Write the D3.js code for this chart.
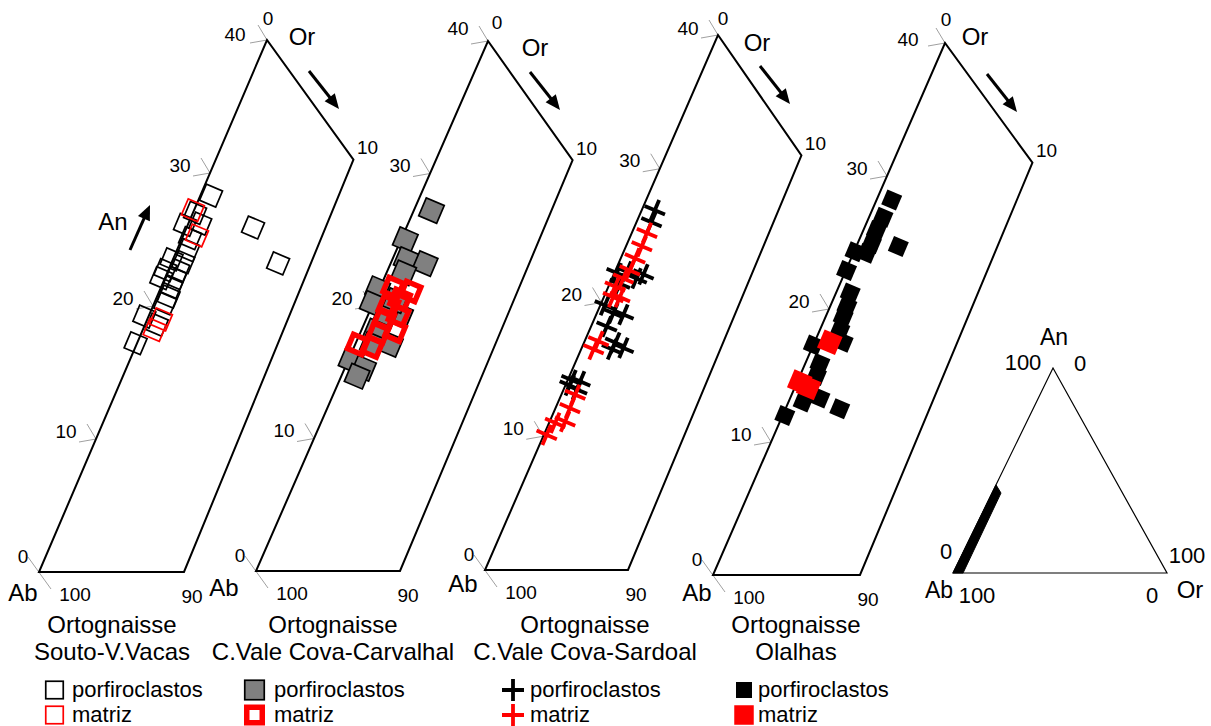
<!DOCTYPE html>
<html><head><meta charset="utf-8">
<script src="https://cdn.jsdelivr.net/npm/d3@7"></script>
<style>body{margin:0;background:#fff}svg{display:block}text{font-family:"Liberation Sans",Arial,Helvetica,sans-serif;fill:#000}</style>
</head><body><svg id="c" width="1211" height="726"></svg>
<script>
// ================= DATA =================
const anTicks = [0, 10, 20, 30, 40];
const frameOr = [0, 10, 9.5, 0];
const frameAn = [0, 0, 31, 40];
const abTickLabels = ["100", "90"];
const orTickLabels = ["0", "10"];
const seriesNames = ["porfiroclastos", "matriz"];
const titlesLine1 = ["Ortognaisse", "Ortognaisse", "Ortognaisse", "Ortognaisse"];
const titlesLine2 = ["Souto-V.Vacas", "C.Vale Cova-Carvalhal", "C.Vale Cova-Sardoal", "Olalhas"];

// [Or, An] pairs
const soutoPorfiroclastos = [[0.74,28.3],[0.15,27.0],[0.82,26.2],[-0.19,26.1],[0.55,25.1],[0.77,24.2],[-0.1,23.5],[0.79,23.3],[-0.21,22.7],[0.68,22.7],[-0.25,22.1],[0.71,22.1],[0.70,21.4],[0.80,20.7],[0.77,20.2],[-0.28,19.2],[0.81,18.6],[-0.1,17.2],[4.58,25.9],[7.37,23.2]];
const soutoMatriz = [[-0.08,27.2],[0.95,25.3],[0.94,19.0],[0.82,18.2]];

const carvalhalPorfiroclastos = [[1.23,27.2],[0.30,25.0],[0.97,23.5],[2.40,23.2],[1.19,22.5],[-0.13,21.3],[-0.06,20.2],[2.26,19.3],[1.23,19.3],[1.02,18.1],[2.44,17.1],[1.20,17.1],[0.20,15.9],[1.30,15.3],[1.10,14.7],[1.47,20.4]];
const carvalhalMatriz = [[2.24,21.1],[0.91,21.4],[1.75,20.5],[2.12,19.3],[1.25,19.0],[2.37,18.1],[1.26,18.0],[0.17,17.1],[1.26,16.9],[1.14,20.0]];

const sardoalPorfiroclastos = [[0.92,26.9],[1.05,26.0],[0.17,22.2],[0.83,22.3],[2.08,22.1],[1.72,21.8],[0.71,21.4],[0.32,19.8],[1.16,19.2],[1.90,19.1],[1.10,18.2],[2.19,17.0],[2.92,16.6],[2.16,16.5],[0.27,14.2],[0.91,14.1],[0.93,13.5],[0.31,13.8]];
const sardoalMatriz = [[1.06,25.2],[1.11,24.2],[1.0,23.3],[1.0,22.4],[0.79,21.8],[0.46,21.2],[1.12,20.4],[0.65,20.4],[0.97,17.1],[0.87,16.5],[0.97,13.1],[1.01,12.1],[1.08,11.1],[0.43,11.0],[0.2,10.1]];

const olalhasPorfiroclastos = [[1.03,28.2],[0.95,26.9],[0.9,25.9],[0.95,24.9],[0.91,24.2],[0.07,24.3],[2.86,24.7],[0.05,22.9],[0.97,21.2],[1.14,20.2],[1.2,19.4],[1.37,18.4],[1.95,17.5],[0.0,17.3],[1.0,15.9],[1.12,15.0],[1.0,13.0],[2.03,13.3],[3.69,12.5],[0.15,12.0]];
const olalhasMatriz = [[1.04,17.5],[0.18,14.5],[0.94,14.1]];

// small full triangle: compositional field (Or, An)
const bandOr = [0, 4.7, 4.2, 0];
const bandAn = [0, 0, 39, 43];
const triTickLabels = ["100", "0"];

// ================= LAYOUT =================
const svg = d3.select("#c");
const RED = "#ff0000", GREY = "#808080", TICKGREY = "#a0a0a0";
const MROT = 23;

const panels = [
  {bl:[39,572], br:[184,572], tl:[267,40], ab:[-16,21], or:[35,-3], t40:[-32,-6], t0:[1,-22], tx:112,
   porf:soutoPorfiroclastos, mat:soutoMatriz, kind:"open"},
  {bl:[256,571], br:[400,571], tl:[488,41], ab:[-32,17], or:[47,7], t40:[-30,-13], t0:[9,-19], tx:333,
   porf:carvalhalPorfiroclastos, mat:carvalhalMatriz, kind:"grey"},
  {bl:[485,570], br:[628,570], tl:[718,35], ab:[-22,14], or:[39,8], t40:[-30,-7], t0:[5,-17], tx:585,
   porf:sardoalPorfiroclastos, mat:sardoalMatriz, kind:"plus"},
  {bl:[713,575], br:[860,575], tl:[945,43], ab:[-16,18], or:[30,-6], t40:[-37,-4], t0:[1,-24], tx:796,
   porf:olalhasPorfiroclastos, mat:olalhasMatriz, kind:"solid"}
];

function arrow(g, x1, y1, x2, y2) {
  const ang = Math.atan2(y2 - y1, x2 - x1), L = 15, W = 6.5;
  const bx = x2 - L * Math.cos(ang), by = y2 - L * Math.sin(ang);
  g.append("line").attr("x1", x1).attr("y1", y1).attr("x2", bx + Math.cos(ang)).attr("y2", by + Math.sin(ang))
    .attr("stroke", "#000").attr("stroke-width", 3);
  const px = -Math.sin(ang) * W, py = Math.cos(ang) * W;
  g.append("path").attr("d", `M${x2},${y2}L${bx + px},${by + py}L${bx - px},${by - py}Z`).attr("fill", "#000");
}

function txt(g, x, y, s, size, anchor) {
  return g.append("text").attr("x", x).attr("y", y).attr("dy", "0.35em")
    .attr("text-anchor", anchor || "middle").attr("font-size", size).text(s);
}

function drawMarker(g, kind, isMat, x, y, rot) {
  const m = g.append("g").attr("transform", `translate(${x},${y}) rotate(${rot})`);
  if (kind === "open") {
    const s = 17.5;
    m.append("rect").attr("x", -s/2).attr("y", -s/2).attr("width", s).attr("height", s)
      .attr("fill", "none").attr("stroke", isMat ? RED : "#000").attr("stroke-width", 1.7);
  } else if (kind === "grey") {
    if (isMat) {
      const s = 15.5;
      m.append("rect").attr("x", -s/2).attr("y", -s/2).attr("width", s).attr("height", s)
        .attr("fill", "none").attr("stroke", RED).attr("stroke-width", 5.5);
    } else {
      const s = 19.5;
      m.append("rect").attr("x", -s/2).attr("y", -s/2).attr("width", s).attr("height", s)
        .attr("fill", GREY).attr("stroke", "#000").attr("stroke-width", 1.7);
    }
  } else if (kind === "plus") {
    const h = 11;
    m.append("path").attr("d", `M${-h},0H${h}M0,${-h}V${h}`)
      .attr("stroke", isMat ? RED : "#000").attr("stroke-width", 3.8).attr("fill", "none");
  } else {
    const s = isMat ? 19.5 : 16;
    m.append("rect").attr("x", -s/2).attr("y", -s/2).attr("width", s).attr("height", s)
      .attr("fill", isMat ? RED : "#000");
  }
}

panels.forEach((P, i) => {
  const g = svg.append("g");
  const orX = d3.scaleLinear().domain([0, 10]).range([P.bl[0], P.br[0]]);
  const anX = d3.scaleLinear().domain([0, 40]).range([0, P.tl[0] - P.bl[0]]);
  const anY = d3.scaleLinear().domain([0, 40]).range([P.bl[1], P.tl[1]]);
  const proj = (o, a) => [orX(o) + anX(a), anY(a)];

  // ticks on An axis
  anTicks.forEach(t => {
    const [x, y] = proj(0, t);
    if (t === 0) {
      g.append("line").attr("x1", x - 11).attr("y1", y - 15).attr("x2", x + 12).attr("y2", y + 17)
        .attr("stroke", TICKGREY).attr("stroke-width", 1);
      txt(g, x - 16, y - 16, String(t), 19);
    } else {
      g.append("line").attr("x1", x).attr("y1", y).attr("x2", x - 17).attr("y2", y + 3)
        .attr("stroke", TICKGREY).attr("stroke-width", 1);
      g.append("line").attr("x1", x).attr("y1", y).attr("x2", x - 9).attr("y2", y - 15)
        .attr("stroke", TICKGREY).attr("stroke-width", 1);
      if (t === 40) txt(g, x + P.t40[0], y + P.t40[1], String(t), 19);
      else txt(g, x - 30, y - 8, String(t), 19);
    }
  });

  // frame
  const pts = frameOr.map((o, k) => proj(o, frameAn[k]));
  g.append("path").attr("d", d3.line()(pts) + "Z").attr("fill", "none")
    .attr("stroke", "#000").attr("stroke-width", 2).attr("stroke-linejoin", "miter");

  const TL = proj(0, 40), TR = proj(frameOr[2], frameAn[2]), BL = proj(0, 0), BR = proj(10, 0);
  txt(g, TL[0] + P.t0[0], TL[1] + P.t0[1], orTickLabels[0], 19);
  txt(g, TR[0] + 14, TR[1] - 12, orTickLabels[1], 19);
  txt(g, BL[0] + 36, BL[1] + 22, abTickLabels[0], 19);
  txt(g, BR[0] + 8, BR[1] + 24, abTickLabels[1], 19);
  txt(g, BL[0] + P.ab[0], BL[1] + P.ab[1], "Ab", 24);
  txt(g, TL[0] + P.or[0], TL[1] + P.or[1], "Or", 24);
  arrow(g, TL[0] + 42, TL[1] + 31, TL[0] + 72, TL[1] + 69);

  // titles
  txt(g, P.tx, 625, titlesLine1[i], 24);
  txt(g, P.tx, 652, titlesLine2[i], 24);

  // data
  P.porf.forEach(d => { const [x, y] = proj(d[0], d[1]); drawMarker(g, P.kind, false, x, y, MROT); });
  P.mat.forEach(d => { const [x, y] = proj(d[0], d[1]); drawMarker(g, P.kind, true, x, y, MROT); });
});

// An arrow (panel 1)
{
  const g = svg.append("g");
  txt(g, 113, 222, "An", 24);
  arrow(g, 130, 250, 150, 205);
}

// legends
const legendX = [[54.5, 72], [254.5, 274], [513, 530], [744, 758]];
panels.forEach((P, i) => {
  const g = svg.append("g");
  const [sx, tx] = legendX[i];
  const y1 = 690, y2 = 715;
  drawMarker(g, P.kind, false, sx, y1, 0);
  drawMarker(g, P.kind, true, sx, y2, 0);
  txt(g, tx, y1 - 1, seriesNames[0], 22, "start");
  txt(g, tx, y2 - 1, seriesNames[1], 22, "start");
});

// small full ternary
{
  const g = svg.append("g");
  const tOrX = d3.scaleLinear().domain([0, 100]).range([953, 1167]);
  const tAnX = d3.scaleLinear().domain([0, 100]).range([0, 100]);
  const tAnY = d3.scaleLinear().domain([0, 100]).range([573, 368]);
  const tp = (o, a) => [tOrX(o) + tAnX(a), tAnY(a)];
  const band = bandOr.map((o, k) => tp(o, bandAn[k]));
  g.append("path").attr("d", d3.line()(band) + "Z").attr("fill", "#000").attr("stroke", "#000").attr("stroke-width", 1);
  const tri = [tp(0, 0), tp(100, 0), tp(0, 100)];
  g.append("path").attr("d", d3.line()(tri) + "Z").attr("fill", "none").attr("stroke", "#000").attr("stroke-width", 1.2);
  const [ax, ay] = tp(0, 100), [bx, by] = tp(0, 0), [cx, cy] = tp(100, 0);
  txt(g, ax + 1, ay - 31, "An", 23);
  txt(g, ax - 30, ay - 6, triTickLabels[0], 22);
  txt(g, ax + 27, ay - 5, triTickLabels[1], 22);
  txt(g, bx - 7, by - 22, triTickLabels[1], 22);
  txt(g, bx - 14, by + 17, "Ab", 23);
  txt(g, bx + 24, by + 22, triTickLabels[0], 22);
  txt(g, cx + 20, cy - 18, triTickLabels[0], 22);
  txt(g, cx - 15, cy + 22, triTickLabels[1], 22);
  txt(g, cx + 23, cy + 17, "Or", 24);
}
</script></body></html>
